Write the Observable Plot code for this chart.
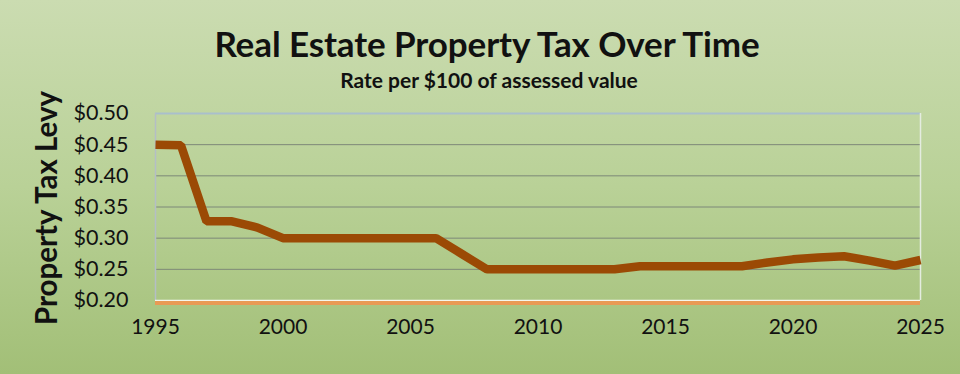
<!DOCTYPE html>
<html>
<head>
<meta charset="utf-8">
<script src="https://cdn.jsdelivr.net/npm/d3@7"></script>
<script src="https://cdn.jsdelivr.net/npm/@observablehq/plot@0.6"></script>
<style>
  html, body { margin: 0; padding: 0; }
  body { width: 960px; height: 374px; overflow: hidden; font-family: Lato, "Open Sans", sans-serif; }
  #wrap { position: relative; width: 960px; height: 374px;
    background: linear-gradient(to bottom, #cbdcb1 0%, #b9d197 50%, #a2bf77 100%); }
  #title { position: absolute; left: 0; width: 974px; top: 22px; text-align: center;
    font-size: 35px; font-weight: 700; color: #111; letter-spacing: -0.1px; }
  #subtitle { position: absolute; left: 0; width: 978px; top: 67px; text-align: center;
    font-size: 21px; font-weight: 700; color: #111; }
  #ylabel { position: absolute; left: 45px; top: 208px; transform: translate(-50%, -50%) rotate(-90deg);
    white-space: nowrap; font-size: 29.5px; font-weight: 700; color: #111; }
  #chart { position: absolute; left: 0; top: 0; }
</style>
</head>
<body>
<div id="wrap">
  <div id="chart"></div>
  <div id="title">Real Estate Property Tax Over Time</div>
  <div id="subtitle">Rate per $100 of assessed value</div>
  <div id="ylabel">Property Tax Levy</div>
</div>
<script>
const years = [1995,1996,1997,1998,1999,2000,2001,2002,2003,2004,2005,2006,2007,2008,2009,2010,2011,2012,2013,2014,2015,2016,2017,2018,2019,2020,2021,2022,2023,2024,2025];
const rates = [0.450,0.449,0.327,0.327,0.317,0.300,0.300,0.300,0.300,0.300,0.300,0.300,0.275,0.250,0.250,0.250,0.250,0.250,0.250,0.255,0.255,0.255,0.255,0.255,0.261,0.266,0.269,0.271,0.264,0.256,0.265];
const yTicks = [0.20,0.25,0.30,0.35,0.40,0.45,0.50];
const xTicks = [1995,2000,2005,2010,2015,2020,2025];

const data = years.map((y, i) => ({year: y, rate: rates[i]}));
const fmt = d => "$" + d.toFixed(2);

const chart = Plot.plot({
  width: 960,
  height: 374,
  marginTop: 113,
  marginBottom: 74,
  marginLeft: 155,
  marginRight: 40,
  style: {background: "transparent", fontFamily: "Lato, 'Open Sans', sans-serif", color: "#111"},
  x: {domain: [1995, 2025]},
  y: {domain: [0.20, 0.50]},
  marks: [
    Plot.gridY(yTicks.slice(1, -1), {stroke: "#7d8878", strokeOpacity: 1, strokeWidth: 1}),
    Plot.ruleY([0.50], {stroke: "#a9bfcc", strokeWidth: 2}),
    Plot.ruleX([1995], {stroke: "#b4bec6", strokeWidth: 1.5}),
    Plot.ruleX([2025], {stroke: "#e4ece0", strokeWidth: 1.5}),
    Plot.ruleY([0.20], {stroke: "#f4f6ee", strokeWidth: 1.5}),
    Plot.ruleY([0.20], {stroke: "#e89a55", strokeWidth: 4, dy: 2.5}),
    Plot.line(data, {x: "year", y: "rate", stroke: "#9b4a05", strokeWidth: 8.5, strokeLinejoin: "miter", strokeLinecap: "butt"}),
    Plot.axisY(yTicks, {tickFormat: fmt, tickSize: 0, tickPadding: 27, fontSize: 21.5, label: null}),
    Plot.axisX(xTicks, {tickFormat: d => String(d), tickSize: 0, tickPadding: 19, fontSize: 21, label: null})
  ]
});
document.getElementById("chart").appendChild(chart);
</script>
</body>
</html>
